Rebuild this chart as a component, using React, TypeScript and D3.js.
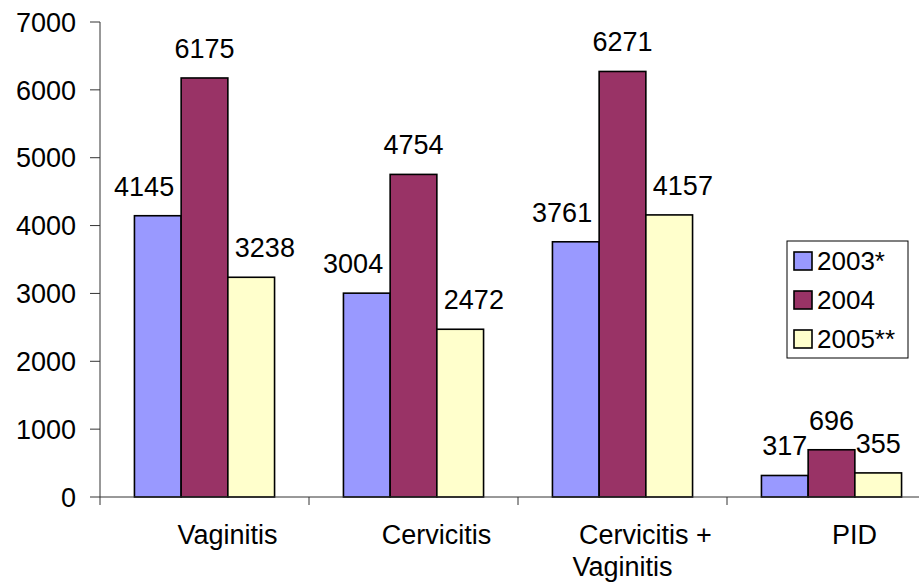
import React, { useEffect } from "react";
import * as d3 from "d3";

const categories = ["Vaginitis", "Cervicitis", "Cervicitis +\nVaginitis", "PID"];
const seriesNames = ["2003*", "2004", "2005**"];
const values2003 = [4145, 3004, 3761, 317];
const values2004 = [6175, 4754, 6271, 696];
const values2005 = [3238, 2472, 4157, 355];
const yTicks = [0, 1000, 2000, 3000, 4000, 5000, 6000, 7000];

const colors = ["#9999FF", "#993366", "#FFFFCC"];
const W = 919;
const H = 586;
const FONT = "Liberation Sans, Arial, sans-serif";
const FS = 27;
const LFS = 26;

export default function App() {
  useEffect(() => {
    document.body.style.margin = "0";
  }, []);

  const seriesValues = [values2003, values2004, values2005];
  const x0 = d3.scaleBand<string>().domain(categories).range([100, 936]).paddingInner(0).paddingOuter(0);
  const x1 = d3
    .scaleBand<string>()
    .domain(seriesNames)
    .range([0, x0.bandwidth()])
    .paddingInner(0)
    .paddingOuter(0.7375);
  const y = d3.scaleLinear().domain([0, 7000]).range([497, 22]);

  const bars: { ci: number; si: number; x: number; w: number; yTop: number; v: number }[] = [];
  categories.forEach((c, ci) => {
    seriesNames.forEach((s, si) => {
      const v = seriesValues[si][ci];
      bars.push({ ci, si, x: (x0(c) || 0) + (x1(s) || 0), w: x1.bandwidth(), yTop: y(v), v });
    });
  });

  const labelGap = 7;
  const labels = bars.map((b) => {
    const txt = String(b.v);
    const tw = txt.length * 0.556 * FS;
    let cx = b.x + b.w / 2;
    const base = b.yTop - 20;
    const group = bars.filter((o) => o.ci === b.ci);
    const right = group.find((o) => o.si === b.si + 1);
    const left = group.find((o) => o.si === b.si - 1);
    if (right && right.yTop < base && cx + tw / 2 > right.x) {
      cx = right.x - labelGap - tw / 2;
    } else if (left && left.yTop < base && cx - tw / 2 < left.x + left.w) {
      cx = left.x + left.w + labelGap + tw / 2;
    }
    return { txt, cx, base };
  });

  return (
    <svg width={W} height={H} style={{ display: "block", background: "#fff" }} fontFamily={FONT}>
      <rect x={0} y={0} width={W} height={H} fill="#fff" />
      {/* y axis */}
      <line x1={100} x2={100} y1={y(7000)} y2={y(0)} stroke="#333" strokeWidth={1} />
      {yTicks.map((t) => (
        <g key={t}>
          <line x1={90} x2={100} y1={y(t)} y2={y(t)} stroke="#333" strokeWidth={1} />
          <text x={76} y={y(t)} dy="0.36em" textAnchor="end" fontSize={FS} fill="#000">
            {t}
          </text>
        </g>
      ))}
      {/* bars */}
      {bars.map((b, i) => (
        <rect
          key={i}
          x={b.x}
          y={b.yTop}
          width={b.w}
          height={y(0) - b.yTop}
          fill={colors[b.si]}
          stroke="#000"
          strokeWidth={1.6}
        />
      ))}
      {/* x axis */}
      <line x1={100} x2={W} y1={y(0)} y2={y(0)} stroke="#333" strokeWidth={1} />
      {categories.map((c) => (
        <line key={c} x1={x0(c)} x2={x0(c)} y1={y(0)} y2={y(0) + 8} stroke="#333" strokeWidth={1} />
      ))}
      {categories.map((c) => {
        const lines = c.split("\n");
        const cx = (x0(c) || 0) + x0.bandwidth() / 2;
        return (
          <g key={c}>
            {lines.map((ln, li) => (
              <text
                key={li}
                x={li === 0 ? cx + 23 : cx}
                y={544 + li * 32}
                textAnchor="middle"
                fontSize={FS}
                fill="#000"
              >
                {ln}
              </text>
            ))}
          </g>
        );
      })}
      {/* value labels */}
      {labels.map((l, i) => (
        <text key={i} x={l.cx} y={l.base} textAnchor="middle" fontSize={FS} fill="#000">
          {l.txt}
        </text>
      ))}
      {/* legend */}
      <rect x={787} y={241} width={121} height={117} fill="#fff" stroke="#000" strokeWidth={1} />
      {seriesNames.map((s, i) => (
        <g key={s}>
          <rect x={794} y={252 + i * 39} width={18} height={18} fill={colors[i]} stroke="#000" strokeWidth={1.6} />
          <text x={817} y={270 + i * 39} fontSize={LFS} fill="#000">
            {s}
          </text>
        </g>
      ))}
    </svg>
  );
}
